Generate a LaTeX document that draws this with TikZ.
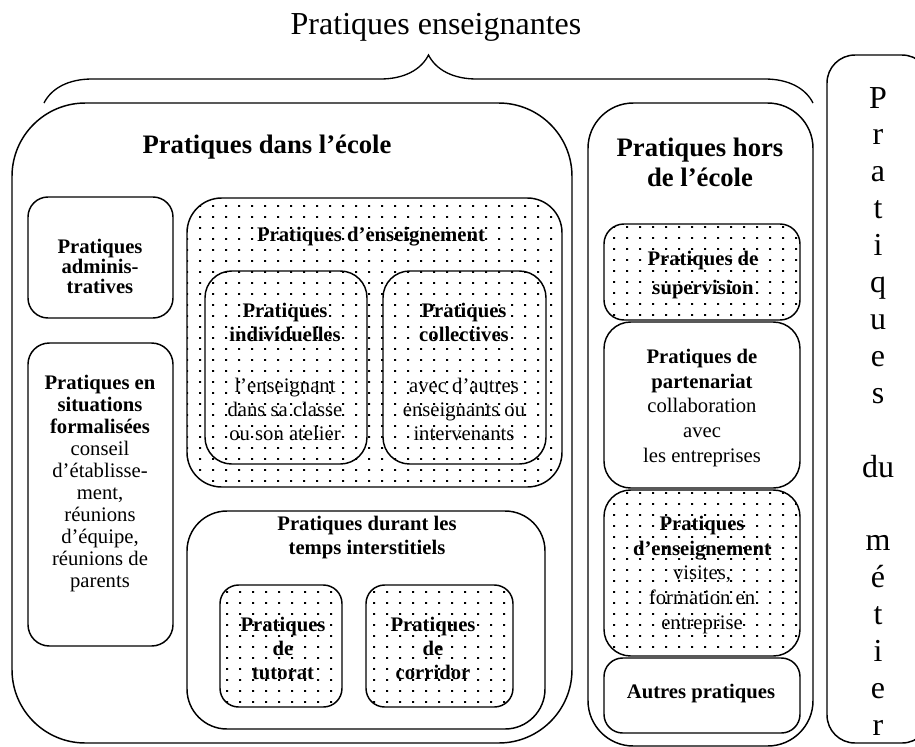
\documentclass[tikz,border=0pt]{standalone}
\usepackage{fontspec}
\setmainfont{Liberation Serif}
\usetikzlibrary{fit,decorations.pathreplacing,patterns.meta}

\tikzdeclarepattern{
  name=sparsedots,
  type=uncolored,
  bottom left={(0pt,0pt)},
  top right={(10pt,8.3pt)},
  tile size={(10pt,8.3pt)},
  code={\fill (0pt,0pt) rectangle (1.6pt,1.6pt);}
}

\tikzset{
  box/.style={draw, line width=1.1pt, rounded corners=#1, inner sep=0pt},
  box/.default=15pt,
  dotbox/.style={box=#1, pattern=sparsedots},
  dotbox/.default=15pt,
  txt/.style={align=center, inner sep=0pt, font=\fontsize{15.5pt}{18pt}\selectfont},
  txtb/.style={align=center, inner sep=0pt, font=\fontsize{15.5pt}{18pt}\selectfont\bfseries},
  head/.style={align=center, inner sep=0pt, font=\fontsize{20pt}{22.5pt}\selectfont\bfseries},
  grand/.style={inner sep=0pt, font=\fontsize{24pt}{28pt}\selectfont},
  accolade/.style={decorate, decoration={brace, amplitude=36pt}, line width=1pt}
}

\begin{document}
\begin{tikzpicture}[x=0.75pt, y=-0.75pt]
  \useasboundingbox (0,0) rectangle (915,747);

  % Title and brace
  \node[grand, anchor=base] (titre) at (436,34) {Pratiques enseignantes};
  \coordinate (braceL) at (44,103);
  \coordinate (braceR) at (813,103);
  \draw[accolade] (braceL) -- (braceR);

  % Outer boxes
  \node[box=55pt, fit={(12,103) (572,743)}] (ecole) {};
  \node[box=34pt, fit={(588,103) (813,746)}] (hors) {};
  \node[box=21pt, fit={(827,55) (930,743)}] (metier) {};

  % Boxes inside the school
  \node[box=15pt, fit={(28,197) (173,318)}] (admin) {};
  \node[box=16pt, fit={(28,343) (173,646)}] (formal) {};
  \node[dotbox=26pt, fit={(187,198) (562,487)}] (enseig) {};
  \node[box=20pt, fit={(205,271) (367,464)}] (indiv) {};
  \node[box=20pt, fit={(383,271) (546,464)}] (collect) {};
  \node[box=30pt, fit={(187,511) (545,729)}] (interst) {};
  \node[dotbox=14pt, fit={(220,585) (342,707)}] (tutorat) {};
  \node[dotbox=14pt, fit={(366,585) (513,707)}] (corridor) {};

  % Boxes outside the school
  \node[dotbox=15pt, fit={(604,224) (800,320)}] (superv) {};
  \node[box=20pt, fit={(604,322) (800,488)}] (parten) {};
  \node[dotbox=20pt, fit={(604,490) (800,656)}] (enseigB) {};
  \node[box=14pt, fit={(604,658) (800,733)}] (autres) {};

  % Texts
  \node[head] (ecoleT) at (267,147) {Pratiques dans l’école};
  \node[head] (horsT) at (700,162) {Pratiques hors\\de l’école};
  \node[txtb, font=\fontsize{15.5pt}{15pt}\selectfont\bfseries] (adminT) at (100,266) {Pratiques\\adminis-\\tratives};
  \node[txt, font=\fontsize{15.5pt}{16.5pt}\selectfont] (formalT) at (100,484)
    {\textbf{Pratiques en}\\\textbf{situations}\\\textbf{formalisées}\\conseil\\d’établisse-\\ment,\\réunions\\d’équipe,\\réunions de\\parents};
  \node[txtb] (enseigT) at (371,237) {Pratiques d’enseignement};
  \node[txt] (indivT) at (285,372)
    {\textbf{Pratiques}\\\textbf{individuelles}\\[20pt]l’enseignant\\dans sa classe\\ou son atelier};
  \node[txt] (collectT) at (464,372)
    {\textbf{Pratiques}\\\textbf{collectives}\\[20pt]avec d’autres\\enseignants ou\\intervenants};
  \node[txtb] (interstT) at (367,538) {Pratiques durant les\\temps interstitiels};
  \node[txtb] (tutoratT) at (283,648) {Pratiques\\de\\tutorat};
  \node[txtb] (corridorT) at (433,648) {Pratiques\\de\\corridor};
  \node[txtb, font=\fontsize{15.5pt}{21.5pt}\selectfont\bfseries] (supervT) at (703,275) {Pratiques de\\supervision};
  \node[txt, font=\fontsize{15.5pt}{18.5pt}\selectfont] (partenT) at (702,408)
    {\textbf{Pratiques de}\\\textbf{partenariat}\\collaboration\\avec\\les entreprises};
  \node[txt, font=\fontsize{15.5pt}{18.5pt}\selectfont] (enseigBT) at (702,575)
    {\textbf{Pratiques}\\\textbf{d’enseignement}\\visites,\\formation en\\entreprise};
  \node[txtb] (autresT) at (701,694) {Autres pratiques};

  % Vertical label
  \foreach \ch [count=\i from 0] in {P,r,a,t,i,q,u,e,s,,du,,m,é,t,i,e,r}
    \node[grand, anchor=base] (lettre\i) at (878,108+36.9*\i) {\ch};
\end{tikzpicture}
\end{document}
